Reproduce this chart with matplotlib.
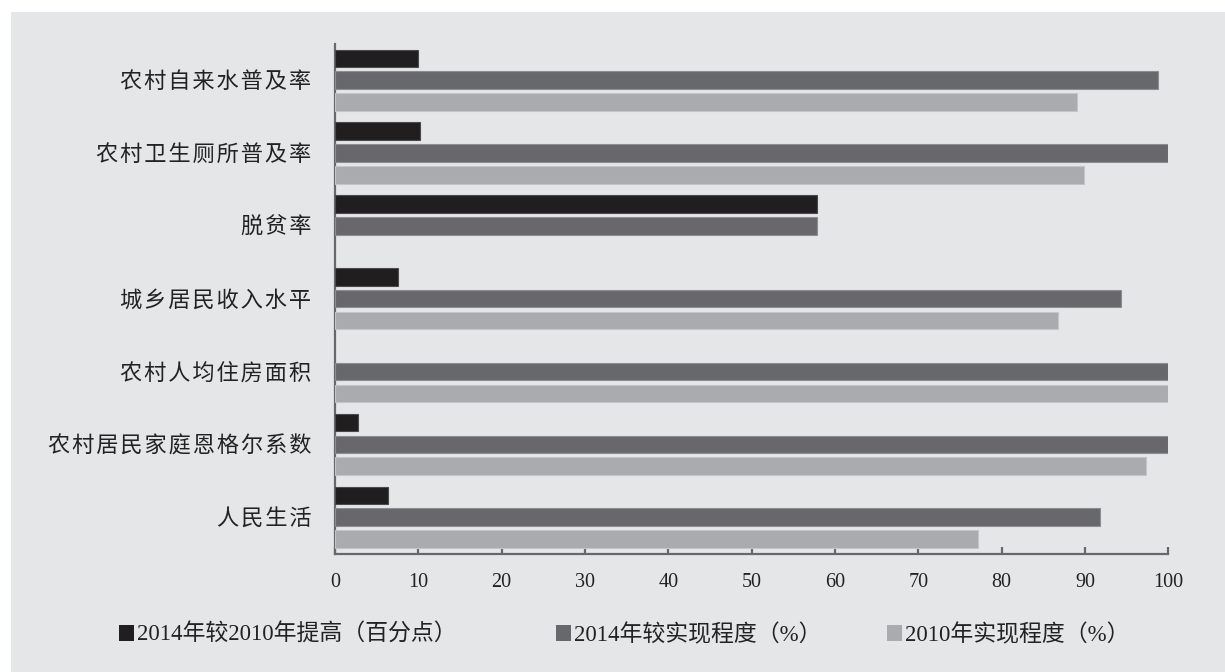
import numpy as np
import matplotlib
matplotlib.use("Agg")
import matplotlib.pyplot as plt
from matplotlib.patches import Rectangle

# === Fonts ===
plt.rcParams['font.family'] = ['Liberation Serif', 'Noto Sans CJK SC', 'DejaVu Sans']

# === Data (top to bottom) ===
categories = ["农村自来水普及率", "农村卫生厕所普及率", "脱贫率", "城乡居民收入水平",
              "农村人均住房面积", "农村居民家庭恩格尔系数", "人民生活"]
rise_2014_vs_2010 = [10.0, 10.2, 57.8, 7.6, 0, 2.8, 6.4]
done_2014 = [98.8, 100, 57.8, 94.3, 100, 100, 91.8]
done_2010 = [89.0, 89.9, 0, 86.8, 100, 97.3, 77.2]
series_names = ["2014年较2010年提高（百分点）", "2014年较实现程度（%）", "2010年实现程度（%）"]
xticks = list(range(0, 101, 10))

# === Style ===
BG = "#e5e6e8"
colors = ["#201e1f", "#68686c", "#aaabae"]
edges = ["#4a4a4c", "#8e8e92", "#c4c5c8"]
AXIS = "#68686c"
legend_x = [120, 557, 888]  # left edge of each legend square, px

fig = plt.figure(figsize=(12.25, 6.72), dpi=100)
fig.patch.set_facecolor("white")
fig.patches.append(Rectangle((11 / 1225, 0), 1 - 11 / 1225, 1 - 12 / 672,
                             transform=fig.transFigure, facecolor=BG,
                             edgecolor="none", zorder=-10))

ax = fig.add_axes([335 / 1225, 1 - 553.5 / 672, (1168.3 - 335) / 1225, (553.5 - 43.8) / 672])
ax.set_facecolor(BG)
ax.set_zorder(1)

y = np.arange(len(categories))
h = 0.24
step = 0.30
all_series = [rise_2014_vs_2010, done_2014, done_2010]
handles = []
for i, vals in enumerate(all_series):
    v = np.array(vals, dtype=float)
    v[v == 0] = np.nan  # no sliver for empty values
    b = ax.barh(y + (i - 1) * step, v, height=h, color=colors[i],
                edgecolor=edges[i], linewidth=0.8, label=series_names[i], zorder=3)
    handles.append(b)

ax.set_ylim(len(categories) - 0.5, -0.5)
ax.set_xlim(0, 100)
ax.set_xticks(xticks)
ax.set_xticklabels([str(t) for t in xticks], fontsize=14.5, color="#222222")

# letter-spaced category labels
spaced = ["\u200a".join(list(c)) for c in categories]
ax.set_yticks(y)
ax.set_yticklabels(spaced, fontsize=16, color="#222222")

for s in ["top", "right"]:
    ax.spines[s].set_visible(False)
for s in ["left", "bottom"]:
    ax.spines[s].set_color(AXIS)
    ax.spines[s].set_linewidth(1.6)

ax.tick_params(axis="x", direction="in", length=5, width=1.6, color=AXIS, pad=14)
ax.tick_params(axis="y", length=0, pad=17)

# === Legend: one entry each, placed like the original ===
for hnd, name, lx in zip(handles, series_names, legend_x):
    leg = fig.legend(handles=[hnd], labels=[name], loc="center left",
                     bbox_to_anchor=((lx - 1) / 1225, 1 - 635 / 672), frameon=False,
                     fontsize=16.5, handlelength=0.65, handleheight=0.65, handletextpad=0.12,
                     borderaxespad=0, borderpad=0)
    for t in leg.get_texts():
        t.set_color("#222222")
    for p in leg.get_patches():
        p.set_edgecolor("none")

fig.savefig("out.png", dpi=100, facecolor=fig.get_facecolor())
